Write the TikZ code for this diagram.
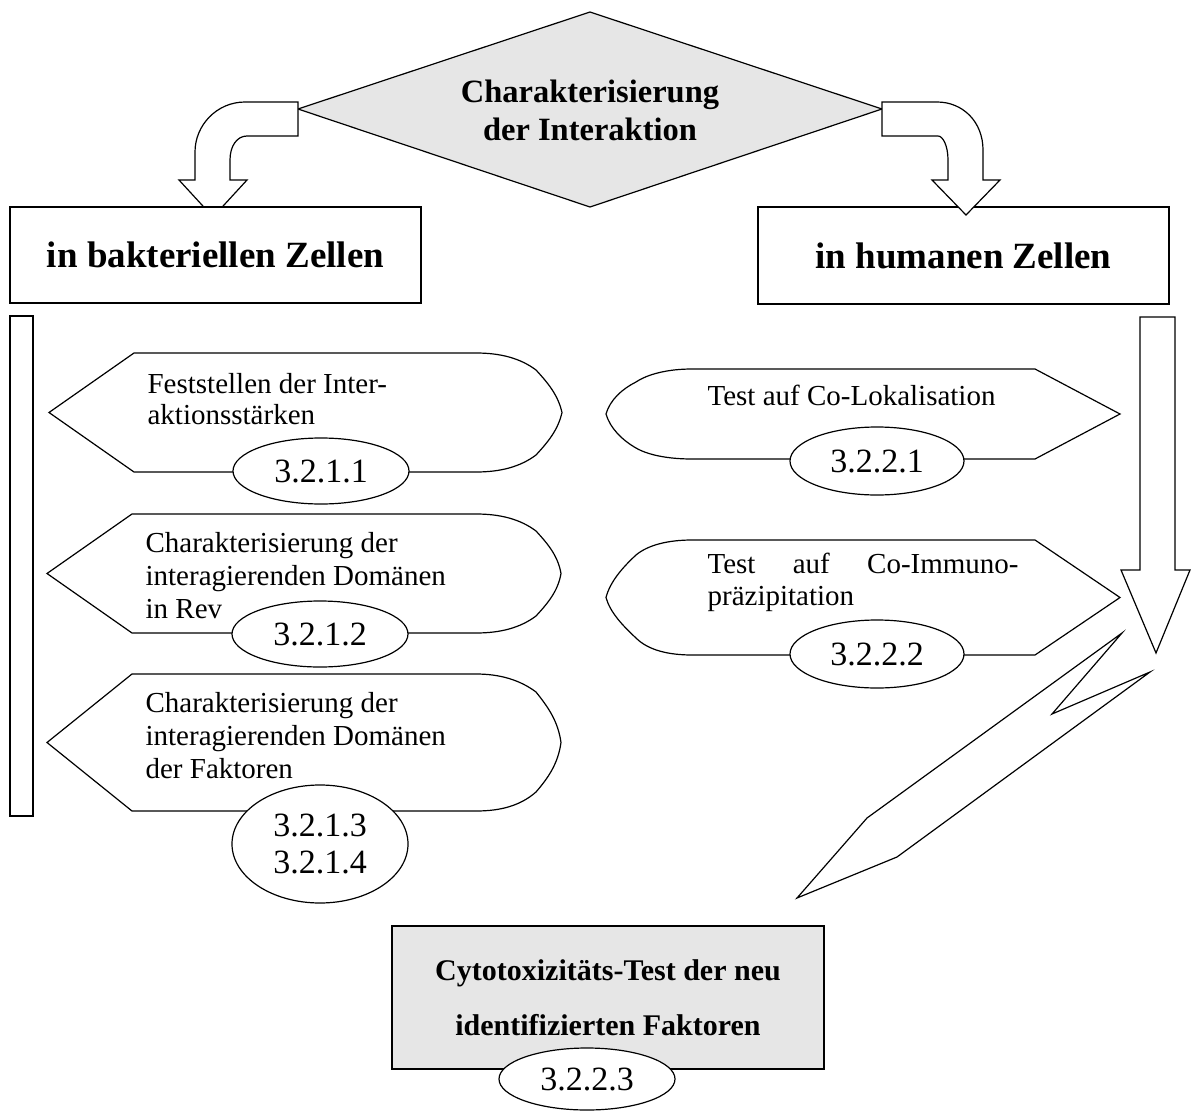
\documentclass[tikz,border=0pt]{standalone}
\usepackage{fontspec}
\setmainfont{Liberation Serif}
\usetikzlibrary{shapes.geometric}
\definecolor{boxgray}{HTML}{E6E6E6}
\begin{document}
\begin{tikzpicture}[x=1pt,y=-1pt, line width=1.2pt, line join=miter,
  outline/.style={draw=black, fill=white},
  numell/.style={draw=black, fill=white, ellipse, inner sep=0pt, align=center, font=\fontsize{34}{37}\selectfont},
  body/.style={inner sep=0pt, anchor=base west, align=left, font=\fontsize{29}{32}\selectfont},
  bigbox/.style={draw=black, fill=white, inner sep=0pt, font=\bfseries\fontsize{37}{40}\selectfont}]
\useasboundingbox (0,0) rectangle (1191,1113);

% decision diamond
\draw[fill=boxgray] (590,12) -- (882,109) -- (590,207) -- (298,109) -- cycle;
\node (dtext) [inner sep=0pt, anchor=base, align=center, font=\bfseries\fontsize{32.5}{37}\selectfont] at (590,140) {Charakterisierung\\der Interaktion};

% curved arrow left
\draw[outline] (298,102) -- (245,102) .. controls (217,102) and (195,125) .. (195,152) -- (195,180) -- (179,180) -- (213,217) -- (247,180) -- (230,180) -- (230,160) .. controls (230,146) and (237,136) .. (247,136) -- (298,136) -- cycle;

% category boxes
\node (bak) [bigbox, minimum width=411pt, minimum height=96pt] at (215.5,255) {in bakteriellen Zellen};
\node (hum) [bigbox, minimum width=411pt, minimum height=97pt] at (963.5,255.5) {in humanen Zellen};

% curved arrow right
\draw[outline] (882,102) -- (937,102) .. controls (963,102) and (983,122) .. (983,150) -- (983,180) -- (1000,180) -- (966,215) -- (932,180) -- (948,180) -- (948,160) .. controls (948,146) and (943,136) .. (938,136) -- (882,136) -- cycle;

% left bar
\draw[outline] (10,316) rectangle (33,816);

% left hexagons
\draw[outline] (476,353) -- (134,353) -- (49,412.5) -- (134,472) -- (476,472)
  .. controls (500,472) and (520,467) .. (536,455) .. controls (548,442) and (558,430) .. (562,412.5)
  .. controls (558,395) and (548,383) .. (536,370) .. controls (520,358) and (500,353) .. (476,353) -- cycle;
\draw[outline] (476,514) -- (132,514) -- (47,573.5) -- (132,633) -- (476,633)
  .. controls (500,633) and (520,628) .. (536,616) .. controls (548,603) and (558,591) .. (561,573.5)
  .. controls (558,556) and (548,544) .. (536,531) .. controls (520,519) and (500,514) .. (476,514) -- cycle;
\draw[outline] (476,674) -- (132,674) -- (47,742.5) -- (132,811) -- (476,811)
  .. controls (500,811) and (520,806) .. (536,792) .. controls (548,778) and (558,764) .. (561,742.5)
  .. controls (558,721) and (548,707) .. (536,692) .. controls (520,680) and (500,674) .. (476,674) -- cycle;

\node (t1) [body, font=\fontsize{29}{31}\selectfont] at (147,424) {Feststellen der Inter-\\aktionsstärken};
\node (t2) [body, font=\fontsize{29}{33}\selectfont] at (145,618) {Charakterisierung der\\interagierenden Domänen\\in Rev};
\node (t3) [body, font=\fontsize{29}{33}\selectfont] at (145,778) {Charakterisierung der\\interagierenden Domänen\\der Faktoren};

\node (n1) [numell, minimum width=176pt, minimum height=66pt] at (321,471) {3.2.1.1};
\node (n2) [numell, minimum width=176pt, minimum height=66pt] at (320,634) {3.2.1.2};
\node (n3) [numell, minimum width=176pt, minimum height=118pt] at (320,844) {3.2.1.3\\3.2.1.4};

% right hexagons
\draw[outline] (692,369) -- (1035,369) -- (1120,414) -- (1035,459) -- (692,459)
  .. controls (668,459) and (648,455) .. (636,448) .. controls (622,440) and (610,428) .. (606,414)
  .. controls (610,400) and (622,389) .. (636,382) .. controls (648,374) and (668,369) .. (692,369) -- cycle;
\draw[outline] (692,540) -- (1035,540) -- (1120,597.5) -- (1035,655) -- (692,655)
  .. controls (668,655) and (648,650) .. (636,638) .. controls (622,625) and (610,612) .. (606,597.5)
  .. controls (610,582) and (622,568) .. (636,555) .. controls (648,545) and (668,540) .. (692,540) -- cycle;

\node (t4) [body] at (707,405) {Test auf Co-Lokalisation};
\node (t5) [body, font=\fontsize{29}{32}\selectfont] at (707,605) {\makebox[311pt][s]{Test auf Co-Immuno-}\\präzipitation};

\node (n4) [numell, minimum width=174pt, minimum height=68pt] at (877,461) {3.2.2.1};
\node (n5) [numell, minimum width=174pt, minimum height=68pt] at (877,654) {3.2.2.2};

% big down arrow
\draw[outline] (1140,317) -- (1175,317) -- (1175,570) -- (1190,570) -- (1156,653) -- (1121,570) -- (1140,570) -- cycle;

% lightning arrow
\draw[outline] (1122,633) -- (1052,714) -- (1150,672) -- (897,857) -- (797,898) -- (867,818) -- cycle;

% final box
\node (cyto) [draw=black, fill=boxgray, inner sep=0pt, minimum width=432pt, minimum height=143pt, align=center, font=\bfseries\fontsize{30}{55}\selectfont] at (608,997.5) {Cytotoxizitäts-Test der neu\\identifizierten Faktoren};
\node (n6) [numell, minimum width=176pt, minimum height=62pt] at (587,1079) {3.2.2.3};
\end{tikzpicture}
\end{document}
